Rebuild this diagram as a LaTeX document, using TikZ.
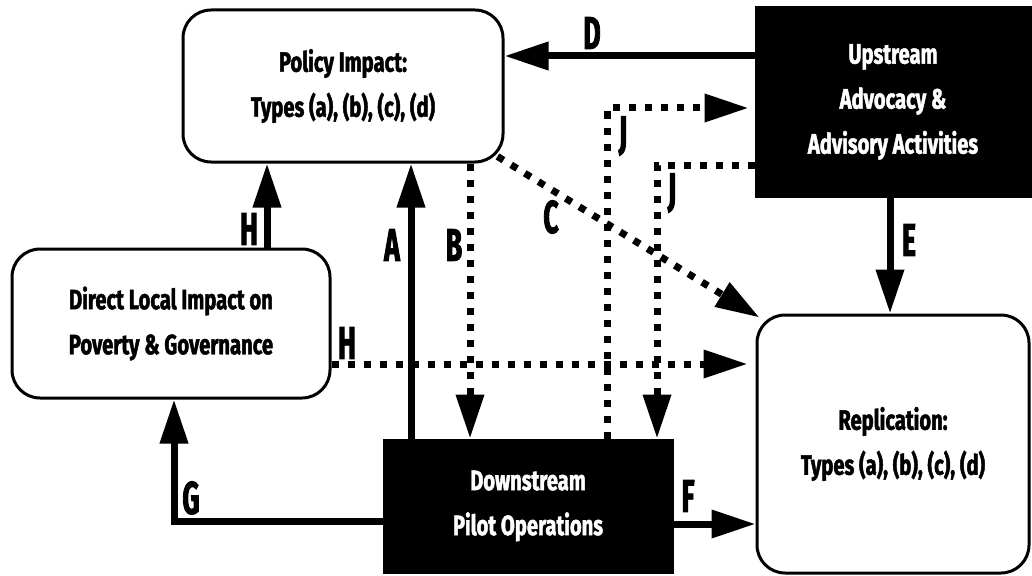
\documentclass[tikz,border=0pt]{standalone}
\usepackage{fontspec}
\newfontfamily\boxfam{Fira Sans}[FakeStretch=0.72,FakeBold=1.6]
\newfontfamily\labfam{Fira Sans}[FakeStretch=0.58,FakeBold=1.8]
\usetikzlibrary{arrows.meta}
\tikzset{
  rbox/.style={draw=black, line width=3pt, rounded corners=28pt, fill=white,
    align=center, inner sep=0pt, font=\boxfam\bfseries\fontsize{28}{45}\selectfont},
  bbox/.style={draw=black, line width=1pt, fill=black, text=white,
    align=center, inner sep=0pt, font=\boxfam\bfseries\fontsize{28}{45}\selectfont},
  conn/.style={line width=7pt, -{Triangle[length=44pt,width=27pt]}},
  dconn/.style={conn, dash pattern=on 7pt off 9pt},
  lab/.style={inner sep=0pt, font=\labfam\bfseries\fontsize{46}{46}\selectfont}
}
\begin{document}
\begin{tikzpicture}[x=1pt,y=-1pt]
\useasboundingbox (0,0) rectangle (1032,575);
% boxes
\node[rbox, minimum width=320pt, minimum height=152pt] (pol) at (343,86) {Policy Impact:\\Types (a), (b), (c), (d)};
\node[bbox, minimum width=276pt, minimum height=190pt] (up) at (893,102) {Upstream\\Advocacy \&\\Advisory Activities};
\node[rbox, minimum width=318pt, minimum height=149pt] (dir) at (171,323.5) {Direct Local Impact on\\Poverty \& Governance};
\node[bbox, minimum width=290pt, minimum height=134pt] (down) at (528,506) {Downstream\\Pilot Operations};
\node[rbox, minimum width=272pt, minimum height=258pt] (rep) at (893,444) {Replication:\\Types (a), (b), (c), (d)};
% helper coordinates
\coordinate (xa) at (411,0);
\coordinate (xh) at (267,0);
\coordinate (xb) at (470,0);
\coordinate (xe) at (890,0);
\coordinate (yd) at (0,56);
\coordinate (yhh) at (0,364);
\coordinate (yf) at (0,524);
\coordinate (j1c) at (607,108);
\coordinate (j2c) at (657,165);
\coordinate (gc) at (174,521);
% connectors
\draw[conn] (up.west |- yd) -- (pol.east |- yd);
\draw[conn] (down.north -| xa) -- (pol.south -| xa);
\draw[conn] (dir.north -| xh) -- (pol.south -| xh);
\draw[dconn] (pol.south -| xb) -- (down.north -| xb);
\draw[dconn] ([shift={(-7,-7)}]pol.south east) -- ([shift={(4,4)}]rep.north west);
\draw[dconn] (down.north -| j1c) -- (j1c) -- ([xshift=-6pt]up.west |- j1c);
\draw[dconn] (up.west |- j2c) -- (j2c) -- (down.north -| j2c);
\draw[conn] (up.south -| xe) -- (rep.north -| xe);
\draw[dconn] (dir.east |- yhh) -- ([xshift=-8pt]rep.west |- yhh);
\draw[conn] (down.east |- yf) -- (rep.west |- yf);
\draw[conn] (down.west |- gc) -- (gc) -- (dir.south -| gc);
% labels
\node[lab] (lD) at (592,33) {D};
\node[lab] (lA) at (392,245) {A};
\node[lab] (lB) at (454,245) {B};
\node[lab] (lH1) at (249,229) {H};
\node[lab] (lH2) at (347,343) {H};
\node[lab] (lC) at (551,217) {C};
\node[lab] (lJ1) at (623,136) {J};
\node[lab] (lJ2) at (672,193) {J};
\node[lab] (lE) at (909,240) {E};
\node[lab] (lF) at (688,496) {F};
\node[lab] (lG) at (191,498) {G};
\end{tikzpicture}
\end{document}
